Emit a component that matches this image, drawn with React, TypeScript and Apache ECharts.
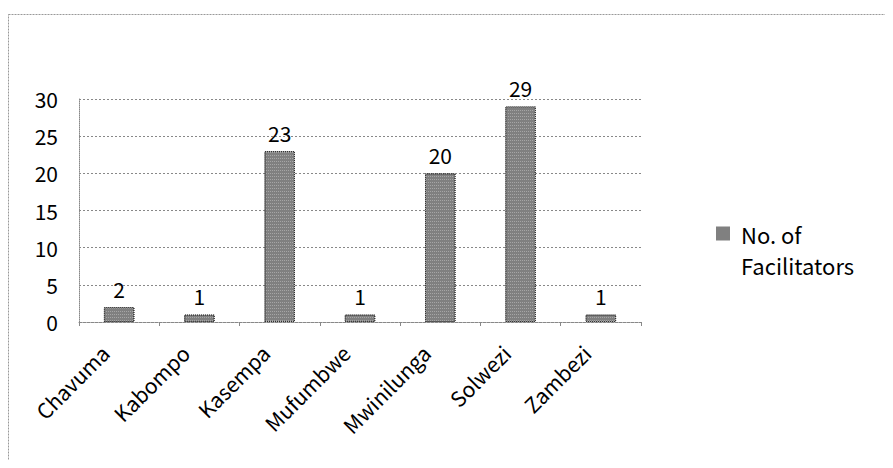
import React, { useEffect, useRef } from "react";
import * as echarts from "echarts";

const categories = ["Chavuma", "Kabompo", "Kasempa", "Mufumbwe", "Mwinilunga", "Solwezi", "Zambezi"];
const facilitators = [2, 1, 23, 1, 20, 29, 1];
const seriesName = "No. of\nFacilitators";
const yTicks = { min: 0, max: 30, interval: 5 };

const FONT = "'Noto Sans CJK JP', 'Liberation Sans', sans-serif";
// square swatch at the top of a taller (invisible) box so it lines up with the first text line
const LEGEND_ICON = "path://M0,0L14,0L14,14L0,14Z M20,45L20.01,45L20.01,45.01Z";

export default function App() {
  const ref = useRef<HTMLDivElement>(null);

  useEffect(() => {
    if (!ref.current) return;
    const chart = echarts.init(ref.current, undefined, { renderer: "svg" });
    chart.setOption({
      animation: false,
      backgroundColor: "#ffffff",
      textStyle: { fontFamily: FONT },
      graphic: [
        {
          type: "rect",
          shape: { x: 0.5, y: 6.5, width: 900, height: 500 },
          style: { fill: "none", stroke: "#999", lineWidth: 1, lineDash: [2, 1] },
          silent: true,
        },
      ],
      legend: {
        show: true,
        left: 708,
        top: 210,
        padding: 0,
        orient: "vertical",
        icon: LEGEND_ICON,
        itemWidth: 20,
        itemHeight: 45,
        itemStyle: { borderWidth: 0, decal: "none" },
        textStyle: { fontSize: 22, color: "#000", fontFamily: FONT, lineHeight: 31 },
      },
      grid: { left: 71, right: 244, top: 91, bottom: 138 },
      xAxis: {
        type: "category",
        data: categories,
        axisLine: { lineStyle: { color: "#888", type: "dotted" } },
        axisTick: { show: true, length: 4, lineStyle: { color: "#888" } },
        axisLabel: {
          show: true,
          rotate: 45,
          margin: 13,
          padding: [0, 20, 0, 0],
          interval: 0,
          fontSize: 21,
          color: "#000",
          fontFamily: FONT,
        },
      },
      yAxis: {
        type: "value",
        min: yTicks.min,
        max: yTicks.max,
        interval: yTicks.interval,
        axisLine: { show: true, lineStyle: { color: "#888", type: "dotted" } },
        axisTick: { show: false },
        axisLabel: { fontSize: 21, color: "#000", margin: 21, fontFamily: FONT },
        splitLine: { lineStyle: { color: "#888", type: [2, 2] } },
      },
      series: [
        {
          name: seriesName,
          type: "bar",
          data: facilitators,
          barWidth: "38%",
          itemStyle: {
            color: "#808080",
            borderColor: "#333",
            borderWidth: 1,
            borderType: "dotted",
            decal: {
              symbol: "rect",
              symbolSize: 1,
              color: "rgba(255,255,255,0.3)",
              dashArrayX: [1, 1],
              dashArrayY: [1, 2],
              rotation: 0,
            },
          },
          label: {
            show: true,
            position: "top",
            distance: 8,
            fontSize: 21,
            color: "#000",
            fontFamily: FONT,
          },
        },
      ],
    });
    return () => chart.dispose();
  }, []);

  return <div ref={ref} style={{ width: 877, height: 452 }} />;
}
